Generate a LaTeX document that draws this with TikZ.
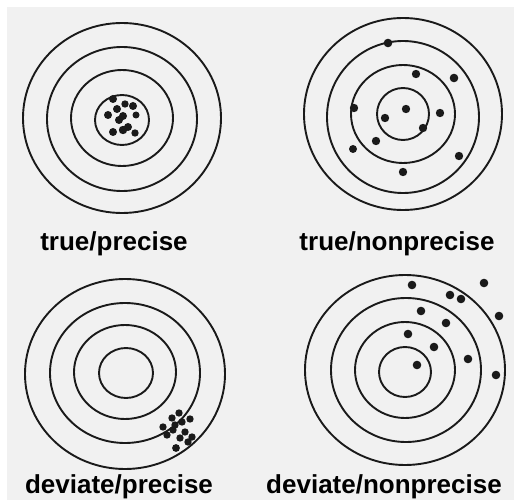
\documentclass[tikz,border=0pt]{standalone}
\usepackage{fontspec}
\setmainfont{Liberation Sans}
\usepackage{tikz}
\usepackage{xcolor}
\definecolor{paper}{HTML}{F1F1F1}
\definecolor{ink}{HTML}{1A1A1A}

\begin{document}
\begin{tikzpicture}[x=1pt, y=-1pt, ring/.style={draw=ink, line width=1.9pt}, lbl/.style={font=\fontsize{26}{30}\selectfont\bfseries, anchor=base, inner sep=0pt}]
  \useasboundingbox (0,0) rectangle (514,500);
  \fill[white] (0,0) rectangle (514,500); \fill[paper] (7,7) rectangle (514,500);
  % true/precise
  \draw[ring] (122,118) ellipse (99 and 95); \draw[ring] (122,119) ellipse (75 and 72); \draw[ring] (122,118) ellipse (51 and 48); \draw[ring] (122,120) ellipse (27 and 25);
  \fill[ink] (113,99) circle (4) (125,104) circle (3.7) (133,106) circle (4) (117,109) circle (4) (108,115) circle (4) (136,115) circle (3.5) (123,116) circle (4) (119,120) circle (4) (113,132) circle (4) (123,130) circle (4.2) (128,127) circle (4) (135,133) circle (3.7);
  \node[lbl] (tp) at (114,250) {true/precise};
  % true/nonprecise
  \draw[ring] (403,114) ellipse (99 and 96); \draw[ring] (403,117) ellipse (76 and 76); \draw[ring] (403,114) ellipse (52 and 49); \draw[ring] (403,114) ellipse (26 and 26);
  \fill[ink] (388,43) circle (4.3) (416,74) circle (4.2) (454,78) circle (4.3) (354,108) circle (4.2) (406,109) circle (4.2) (440,113) circle (4.2) (385,118) circle (4.2) (423,128) circle (4.2) (376,141) circle (4.2) (353,149) circle (4) (459,156) circle (4.2) (403,172) circle (4.2);
  \node[lbl] (tn) at (397,250) {true/nonprecise};
  % deviate/precise
  \draw[ring] (125,374) ellipse (100 and 95); \draw[ring] (125,373) ellipse (75 and 70); \draw[ring] (125,372) ellipse (51 and 47); \draw[ring] (126,373) ellipse (27 and 25);
  \fill[ink] (179,413) circle (3.7) (172,418) circle (3.7) (190,419) circle (3.7) (182,422) circle (3.7) (163,427) circle (3.7) (175,425) circle (3.7) (173,430) circle (3.7) (185,432) circle (3.7) (167,435) circle (3.7) (180,438) circle (3.7) (192,437) circle (3.7) (188,442) circle (3.7) (176,448) circle (3.9);
  \node[lbl] (dp) at (119,493) {deviate/precise};
  % deviate/nonprecise
  \draw[ring] (405,370) ellipse (100 and 95); \draw[ring] (406,370) ellipse (75 and 72); \draw[ring] (405,370) ellipse (50 and 48); \draw[ring] (405,372) ellipse (26 and 25);
  \fill[ink] (412,285) circle (4.3) (484,283) circle (4.3) (450,295) circle (4.3) (461,299) circle (4.3) (421,311) circle (4.3) (499,316) circle (4.3) (446,323) circle (4.3) (408,334) circle (4.3) (434,347) circle (4.3) (468,359) circle (4.3) (417,365) circle (4.3) (496,375) circle (4.3);
  \node[lbl] (dn) at (384,493) {deviate/nonprecise};
\end{tikzpicture}
\end{document}
